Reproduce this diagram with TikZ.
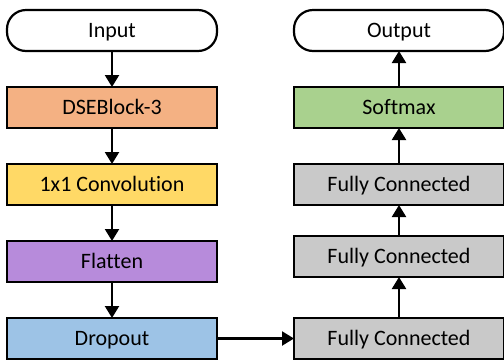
\documentclass[tikz,border=0pt]{standalone}
\usepackage{fontspec}
\setmainfont[Ligatures={NoCommon}]{Carlito}
\usetikzlibrary{positioning,arrows.meta}

\definecolor{dseorange}{HTML}{F4B183}
\definecolor{convyellow}{HTML}{FFD966}
\definecolor{flatpurple}{HTML}{B78BDB}
\definecolor{dropblue}{HTML}{9DC3E6}
\definecolor{softgreen}{HTML}{A9D18E}
\definecolor{fcgray}{HTML}{C9C9C9}

\begin{document}
\begin{tikzpicture}[-{Triangle[width=14pt,length=12pt]}, line width=2.2pt, node distance=36pt,
  every node/.style={minimum width=210pt, minimum height=41pt, inner sep=0pt, outer sep=0pt,
    text height=19pt, text depth=4.5pt, font=\fontsize{22}{24}\selectfont},
  layer/.style={draw, rectangle},
  terminal/.style={draw, rectangle, rounded corners=19pt, fill=white}]
\useasboundingbox (0,0) rectangle (504pt,-360pt);

% left column: feature extraction
\node[terminal] (in) at (112pt,-30.5pt) {Input};
\node[layer, fill=dseorange, below=of in] (dse) {DSEBlock-3};
\node[layer, fill=convyellow, below=of dse] (conv) {1x1 Convolution};
\node[layer, fill=flatpurple, below=of conv] (flat) {Flatten};
\node[layer, fill=dropblue, below=of flat] (drop) {Dropout};

% right column: classifier head
\node[terminal, right=77pt of in] (out) {Output};
\node[layer, fill=softgreen, below=of out] (soft) {Softmax};
\node[layer, fill=fcgray, below=of soft] (fc1) {Fully Connected};
\node[layer, fill=fcgray, below=31pt of fc1] (fc2) {Fully Connected};
\node[layer, fill=fcgray, below=41pt of fc2] (fc3) {Fully Connected};

\path
  (in) edge (dse)
  (dse) edge (conv)
  (conv) edge (flat)
  (flat) edge (drop)
  (drop) edge (fc3)
  (fc3) edge (fc2)
  (fc2) edge (fc1)
  (fc1) edge (soft)
  (soft) edge (out)
;
\end{tikzpicture}
\end{document}
